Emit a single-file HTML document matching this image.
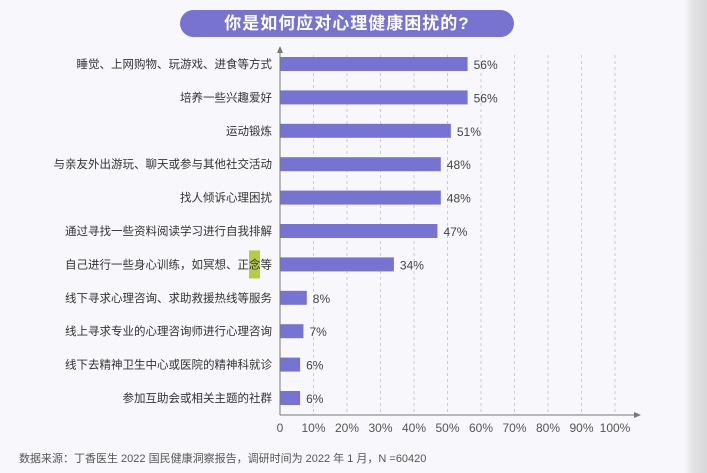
<!DOCTYPE html>
<html><head><meta charset="utf-8"><style>
body{margin:0;width:707px;height:473px;overflow:hidden;background:#f8f8fc;font-family:"Liberation Sans","Noto Sans CJK SC",sans-serif;position:relative}
#shade{position:absolute;left:684px;top:0;width:23px;height:473px;background:linear-gradient(to right,#f8f8fc,#e2e2e4 40%,#d8d8da)}
#title{position:absolute;left:180px;top:10px;width:334px;height:27px;border-radius:14px;background:#7773cf;color:#fff;font-size:17px;font-weight:bold;text-align:center;line-height:27px;letter-spacing:1px}
#foot{position:absolute;left:19px;top:450px;font-size:11px;color:#555}
</style></head><body>
<div id="shade"></div>
<div id="title">你是如何应对心理健康困扰的?</div>
<svg id="chart" width="707" height="473" style="position:absolute;left:0;top:0"></svg>
<div id="foot">数据来源：丁香医生 2022 国民健康洞察报告，调研时间为 2022 年 1 月，N =60420</div>
<script>
const categories=["睡觉、上网购物、玩游戏、进食等方式","培养一些兴趣爱好","运动锻炼","与亲友外出游玩、聊天或参与其他社交活动","找人倾诉心理困扰","通过寻找一些资料阅读学习进行自我排解","自己进行一些身心训练，如冥想、正念等","线下寻求心理咨询、求助救援热线等服务","线上寻求专业的心理咨询师进行心理咨询","线下去精神卫生中心或医院的精神科就诊","参加互助会或相关主题的社群"];
const values=[56,56,51,48,48,47,34,8,7,6,6];
const ticks=[0,10,20,30,40,50,60,70,80,90,100];
const NS="http://www.w3.org/2000/svg";
const svg=document.getElementById('chart');
const x0=280,x100=615,yTop=64,step=33.4,axisY=415;
const xs=v=>x0+(x100-x0)*v/100;
const ys=i=>yTop+i*step;
function mk(t,a){const e=document.createElementNS(NS,t);for(const k in a)e.setAttribute(k,a[k]);svg.appendChild(e);return e;}
ticks.forEach((t,i)=>{
 if(t>0){const g=mk('line',{x1:xs(t),x2:xs(t),y1:55,y2:axisY,stroke:'#ccc','stroke-dasharray':'3,3'});
 
 }
 const l=mk('text',{x:xs(t),y:axisY+17,'text-anchor':'middle','font-size':12,fill:'#555'});
 l.textContent=t===0?'0':t+'%';
 
 
});
categories.forEach((c,i)=>{
 const y=ys(i);
 if(i===6){const h=mk('rect',{x:249,y:y-14,width:11,height:28,fill:'#b5cc45'});
 
 }
 const b=mk('rect',{x:x0,y:y-7,width:xs(values[i])-x0,height:14,fill:'#7773d2'});
 
 
 const t=mk('text',{x:272,y:y+4,'text-anchor':'end','font-size':11.5,fill:'#333'});
 t.textContent=c;
 
 
 const v=mk('text',{x:xs(values[i])+6,y:y+5,'font-size':12,fill:'#444'});
 v.textContent=values[i]+'%';
 
 
});
const ya=mk('line',{x1:x0,x2:x0,y1:50,y2:axisY,stroke:'#777','stroke-width':1});


const yar=mk('path',{d:`M${x0-3},53 L${x0},46 L${x0+3},53 Z`,fill:'#777'});


const xa=mk('line',{x1:x0,x2:637,y1:axisY,y2:axisY,stroke:'#777','stroke-width':1});


const xar=mk('path',{d:`M634,${axisY-3} L641,${axisY} L634,${axisY+3} Z`,fill:'#777'});


</script>
</body></html>
